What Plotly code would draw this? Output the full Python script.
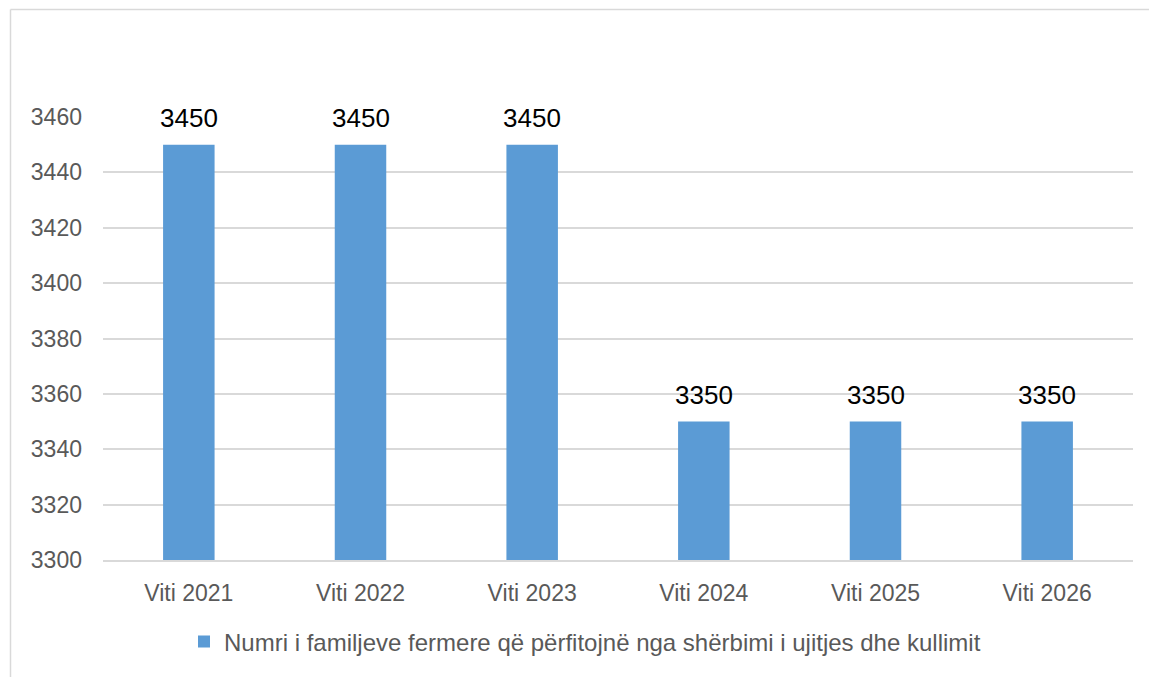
import plotly.graph_objects as go

categories = ["Viti 2021", "Viti 2022", "Viti 2023", "Viti 2024", "Viti 2025", "Viti 2026"]
values = [3450, 3450, 3450, 3350, 3350, 3350]
series_name = "Numri i familjeve fermere që përfitojnë nga shërbimi i ujitjes dhe kullimit"

BAR = "#5b9bd5"
GRID = "#d9d9d9"
TXT = "#595959"
FONT = "Liberation Sans, Arial, sans-serif"

W, H = 1149, 677
L, R, T, B = 103, 16, 117, 113
pw, ph = W - L - R, H - T - B

fig = go.Figure(go.Bar(x=categories, y=values, name=series_name,
                       marker=dict(color=BAR, line=dict(width=0))))

# value labels above bars
for c, v in zip(categories, values):
    fig.add_annotation(x=c, y=v, text=str(v), showarrow=False, yanchor="bottom",
                       yshift=10, font=dict(size=26, color="#000000", family=FONT))

# chart-area border (left and top edges visible, rest cropped)
bx = (10.5 - L) / pw
by = (H - B - 8.5) / ph
fig.add_shape(type="line", xref="paper", yref="paper", x0=bx, x1=bx, y0=-1, y1=by,
              line=dict(color=GRID, width=1.5))
fig.add_shape(type="line", xref="paper", yref="paper", x0=bx, x1=1.2, y0=by, y1=by,
              line=dict(color=GRID, width=1.5))

fig.update_layout(
    width=W, height=H, margin=dict(l=L, r=R, t=T, b=B),
    paper_bgcolor="white", plot_bgcolor="white",
    font=dict(family=FONT, size=23, color=TXT),
    bargap=0.7, showlegend=True,
    legend=dict(orientation="h", x=(184 - L) / pw, xanchor="left", y=-0.185, yanchor="middle",
                font=dict(size=24, color=TXT), itemwidth=30, bgcolor="rgba(0,0,0,0)"),
)
fig.update_xaxes(showgrid=False, showline=True, linecolor=GRID, linewidth=1.5,
                 ticks="", ticklabelstandoff=12, tickfont=dict(size=23, color=TXT))
fig.update_yaxes(range=[3300, 3460], dtick=20, showgrid=True, gridcolor=GRID, gridwidth=1.5,
                 zeroline=False, showline=False, ticks="", ticklabelstandoff=20,
                 tickfont=dict(size=23, color=TXT))

fig.write_html("out.html", config={"displayModeBar": False},
               post_script="document.body.style.margin='0';")
